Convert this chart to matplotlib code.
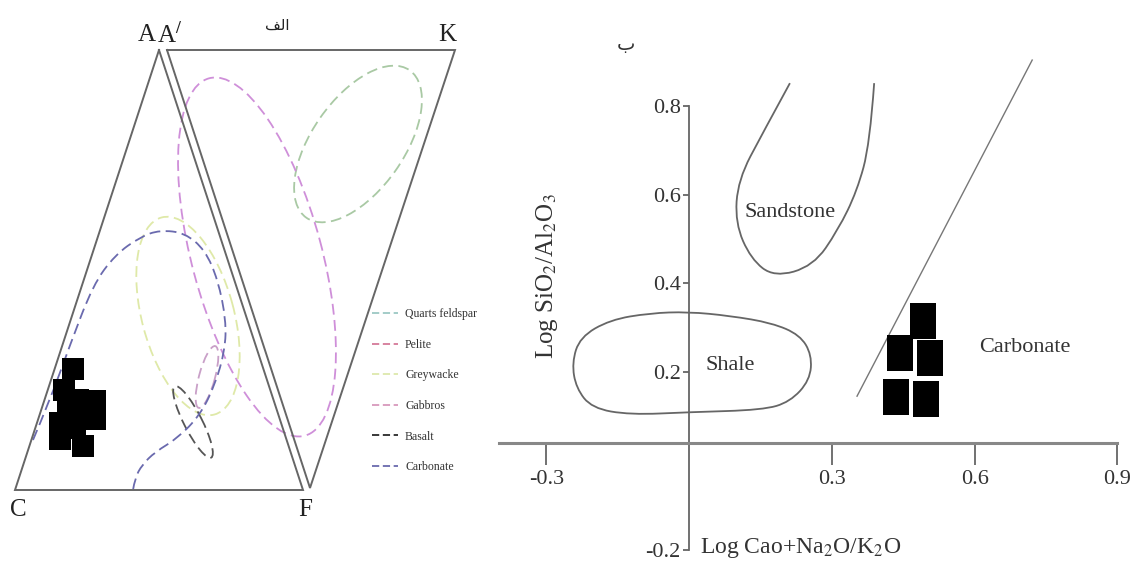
import matplotlib
matplotlib.use("Agg")
import matplotlib.pyplot as plt
import numpy as np
from matplotlib.path import Path
from matplotlib.patches import PathPatch, Ellipse
from matplotlib.lines import Line2D

plt.rcParams['font.family'] = ['Liberation Serif', 'DejaVu Sans']
plt.rcParams['mathtext.fontset'] = 'stix'
plt.rcParams['axes.unicode_minus'] = False

########################
## Left diagram (ACF / A'KF), drawn in picture units
########################
acf_x = [159, 15, 303, 159]
acf_y = [50, 490, 490, 50]
akf_x = [167, 455, 310, 167]
akf_y = [50, 50, 488, 50]

field_names = ['Quarts feldspar', 'Pelite', 'Greywacke', 'Gabbros', 'Basalt', 'Carbonate']
field_colors = ['#9cc8c4', '#d47a98', '#dde8ac', '#d898bc', '#2a2a2a', '#6a6aae']

# closed fields: centre x, centre y, width, height, angle
ell_cx = [358, 257, 188, 193, 207]
ell_cy = [144, 257, 316, 422, 377]
ell_w = [180, 370, 204, 80, 64]
ell_h = [92, 130, 92, 18, 16]
ell_angle = [-55, 75, 75, 63, 105]
ell_colors = ['#a9c9a4', '#cf8fd9', '#dfe9a8', '#555555', '#c9a0c8']

# open carbonate field
carb_field_x = [33, 50, 70, 93, 115, 140, 160, 185, 205, 218, 226, 225, 215, 200, 178, 155, 142, 135, 133]
carb_field_y = [440, 400, 345, 285, 255, 237, 230, 233, 250, 280, 320, 350, 385, 415, 438, 452, 465, 478, 490]

left_samples_x = [73, 64, 95, 95, 60, 60, 83, 78, 75, 68, 84]
left_samples_y = [369, 390, 401, 419, 423, 439, 446, 400, 428, 412, 414]

########################
## Right diagram
########################
sample_x = [0.492, 0.443, 0.506, 0.435, 0.498]
sample_y = [0.315, 0.243, 0.232, 0.144, 0.140]

shale_x = [-0.246, -0.229, -0.166, -0.082, -0.002, 0.086, 0.174, 0.233, 0.258, 0.254, 0.212, 0.155, 0.002, -0.124, -0.204, -0.237]
shale_y = [0.221, 0.279, 0.318, 0.333, 0.336, 0.327, 0.311, 0.284, 0.239, 0.182, 0.133, 0.115, 0.110, 0.104, 0.119, 0.164]

sand_x = [0.212, 0.155, 0.103, 0.097, 0.130, 0.179, 0.261, 0.313, 0.353, 0.380, 0.389]
sand_y = [0.851, 0.739, 0.633, 0.536, 0.455, 0.414, 0.439, 0.520, 0.608, 0.714, 0.851]

divider_x = [0.353, 0.721]
divider_y = [0.146, 0.903]

x_ticks = [-0.3, 0.3, 0.6, 0.9]
y_ticks = [-0.2, 0.2, 0.4, 0.6, 0.8]


def smooth_path(xs, ys, closed):
    # quadratic B-spline through the control points
    pts = np.column_stack([xs, ys]).astype(float)
    if closed:
        mids = (pts + np.roll(pts, -1, axis=0)) / 2
        verts = [mids[-1]]
        codes = [Path.MOVETO]
        for i in range(len(pts)):
            verts += [pts[i], mids[i]]
            codes += [Path.CURVE3, Path.CURVE3]
    else:
        verts = [pts[0]]
        codes = [Path.MOVETO]
        for i in range(1, len(pts) - 1):
            end = pts[-1] if i == len(pts) - 2 else (pts[i] + pts[i + 1]) / 2
            verts += [pts[i], end]
            codes += [Path.CURVE3, Path.CURVE3]
    return Path(verts, codes)


fig = plt.figure(figsize=(11.34, 5.63), dpi=100)

# Left panel
ax = fig.add_axes([0, 0, 470 / 1134, 1])
ax.set_xlim(0, 470)
ax.set_ylim(563, 0)
ax.axis('off')

ax.plot(acf_x, acf_y, color='#666666', lw=1.4, solid_joinstyle='miter')
ax.plot(akf_x, akf_y, color='#666666', lw=1.4, solid_joinstyle='miter')

for i in range(len(ell_cx)):
    e = Ellipse((ell_cx[i], ell_cy[i]), ell_w[i], ell_h[i], angle=ell_angle[i],
                fill=False, edgecolor=ell_colors[i], lw=1.3, linestyle=(0, (6, 3)))
    ax.add_patch(e)
ax.add_patch(PathPatch(smooth_path(carb_field_x, carb_field_y, False), fill=False,
                       edgecolor='#6a6aae', lw=1.3, linestyle=(0, (6, 3))))

ax.plot(left_samples_x, left_samples_y, 's', color='black', ms=15.8, mew=0)

ax.text(147, 35, 'A', fontsize=18, ha='center', va='center', color='#222222')
ax.text(170, 35, 'A$^{/}$', fontsize=18, ha='center', va='center', color='#222222')
ax.text(447, 35, 'K', fontsize=18, ha='center', va='center', color='#222222')
ax.text(18, 510, 'C', fontsize=18, ha='center', va='center', color='#222222')
ax.text(305, 510, 'F', fontsize=18, ha='center', va='center', color='#222222')
ax.text(277, 25, '\uFED2\uFEDF\uFE8D', fontsize=11, ha='center', va='center',
        color='#222222', family=['DejaVu Sans'])

handles = [Line2D([0], [0], color=c, lw=1.3, linestyle=(0, (4, 2))) for c in field_colors]
leg = ax.legend(handles, field_names, loc='upper left', bbox_to_anchor=(372 / 470, 1 - 308 / 563),
                frameon=False, fontsize=8.5, labelspacing=1.58, handlelength=2.2,
                handletextpad=0.6, borderpad=0, borderaxespad=0)
for t in leg.get_texts():
    t.set_color('#333333')

# Right panel
ax2 = fig.add_axes([480 / 1134, 0, 654 / 1134, 1])
ax2.set_xlim((480 - 689) / 476, (1134 - 689) / 476)
ax2.set_ylim((461 - 563) / 444, 461 / 444)
ax2.patch.set_alpha(0)

for s in ['top', 'right']:
    ax2.spines[s].set_visible(False)
ax2.spines['left'].set_position(('data', 0))
ax2.spines['bottom'].set_position(('data', 0.04))
ax2.spines['left'].set_bounds(-0.2, 0.8)
ax2.spines['bottom'].set_bounds(-0.4, 0.9)
ax2.spines['left'].set_color('#666666')
ax2.spines['bottom'].set_color('#888888')
ax2.spines['left'].set_linewidth(1.3)
ax2.spines['bottom'].set_linewidth(2.2)

ax2.set_xticks(x_ticks)
ax2.set_xticklabels(['{:.1f}'.format(v) for v in x_ticks])
ax2.set_yticks(y_ticks)
ax2.set_yticklabels(['{:.1f}'.format(v) for v in y_ticks])
ax2.tick_params(axis='x', direction='out', length=16, width=1.3, color='#666666',
                labelsize=16, labelcolor='#333333', pad=3)
ax2.tick_params(axis='y', direction='out', length=4, width=1.3, color='#666666',
                labelsize=16, labelcolor='#333333', pad=2)

ax2.add_patch(PathPatch(smooth_path(shale_x, shale_y, True), fill=False, edgecolor='#666666', lw=1.3))
ax2.add_patch(PathPatch(smooth_path(sand_x, sand_y, False), fill=False, edgecolor='#666666', lw=1.3))
ax2.plot(divider_x, divider_y, color='#777777', lw=1.0)

rect_marker = Path([(-0.365, -0.5), (0.365, -0.5), (0.365, 0.5), (-0.365, 0.5), (-0.365, -0.5)],
                   [Path.MOVETO, Path.LINETO, Path.LINETO, Path.LINETO, Path.CLOSEPOLY])
ax2.plot(sample_x, sample_y, linestyle='none', marker=rect_marker, ms=26.6,
         color='black', mew=0)

ax2.text(0.212, 0.559, 'Sandstone', fontsize=16, ha='center', va='center', color='#333333')
ax2.text(0.086, 0.216, 'Shale', fontsize=16, ha='center', va='center', color='#333333')
ax2.text(0.706, 0.255, 'Carbonate', fontsize=16, ha='center', va='center', color='#333333')
ax2.text(-0.132, 0.937, '\u0628', fontsize=14, ha='center', va='center', color='#333333',
         family=['DejaVu Sans'])

ax2.set_xlabel('Log Cao+Na$_2$O/K$_2$O', fontsize=17, color='#333333')
ax2.xaxis.set_label_coords((801 - 480) / 654, (563 - 536) / 563)
ax2.set_ylabel('Log SiO$_2$/Al$_2$O$_3$', fontsize=18, color='#333333')
ax2.yaxis.set_label_coords((560 - 480) / 654, 0.51)

fig.savefig('out.png', dpi=100)
